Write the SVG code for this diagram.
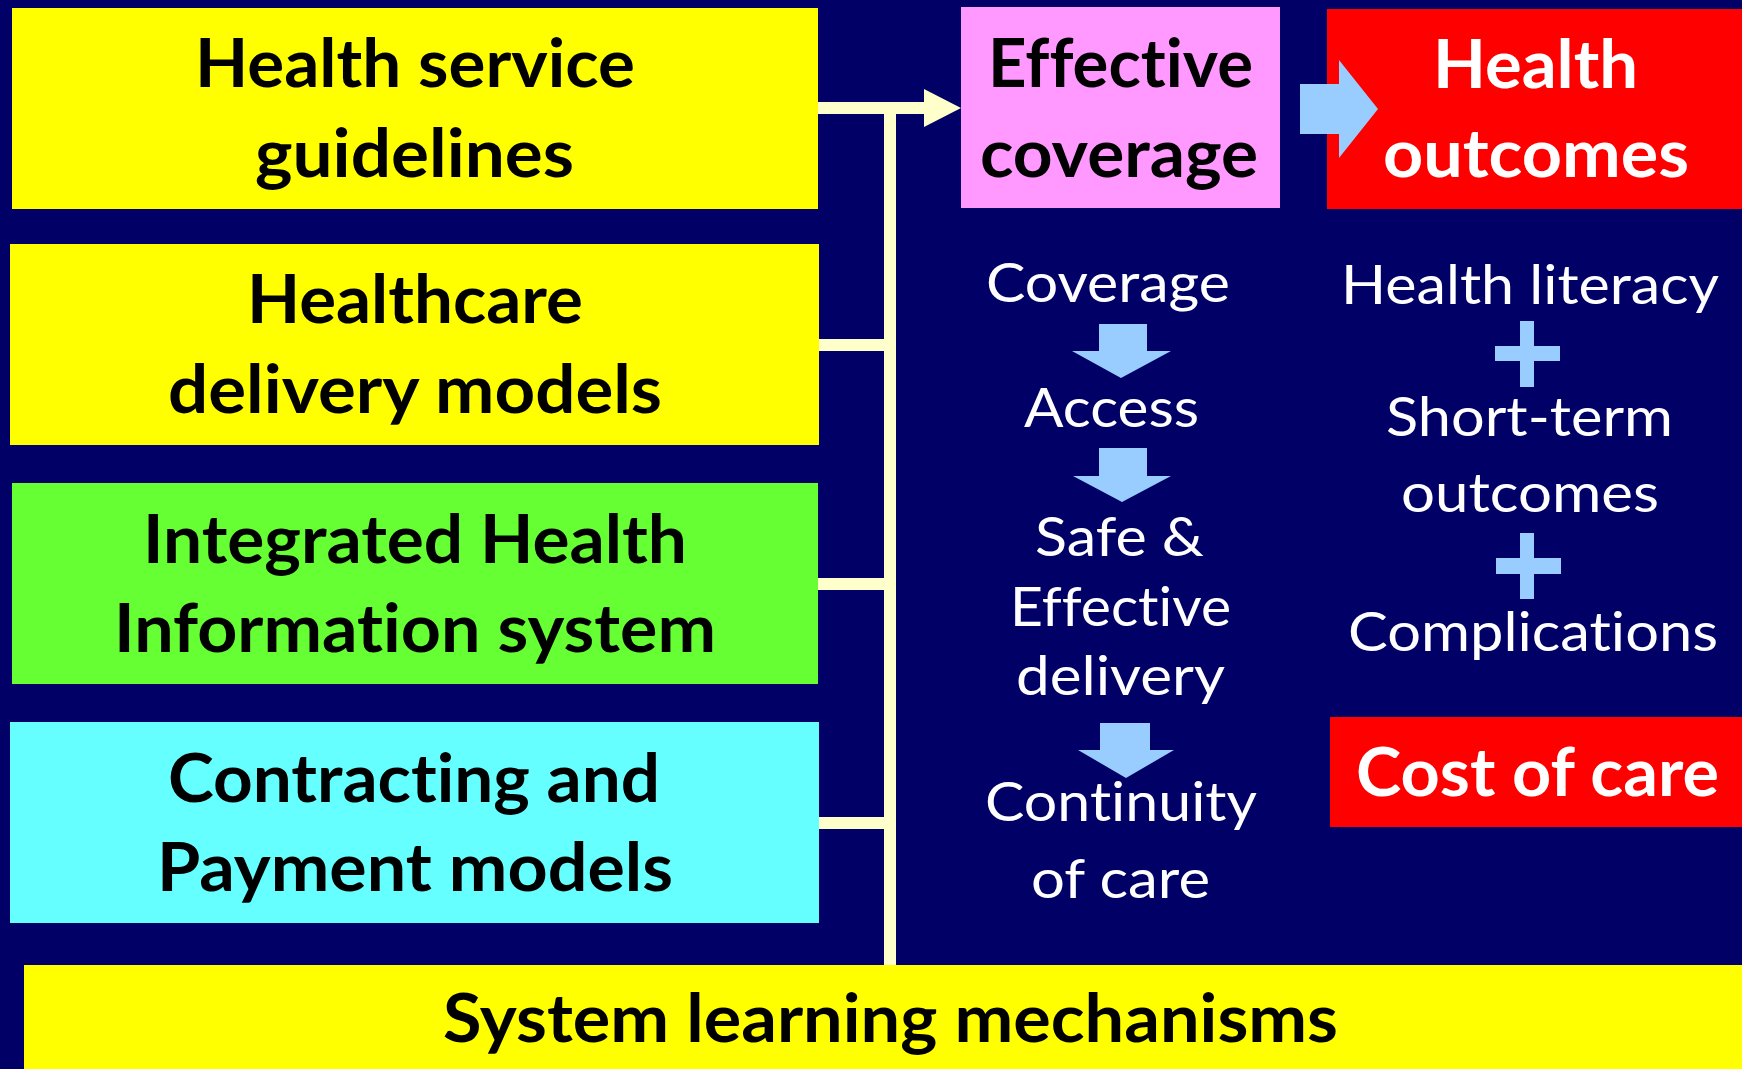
<svg xmlns="http://www.w3.org/2000/svg" width="1742" height="1069" viewBox="0 0 1742 1069">
<style>
text{font-variant-ligatures:none;font-feature-settings:"liga" 0,"dlig" 0,"clig" 0}
.b{font-family:Lato,"Open Sans",sans-serif;font-weight:bold;font-size:66px;fill:#000}
.bw{font-family:Lato,"Open Sans",sans-serif;font-weight:bold;font-size:66px;fill:#fff}
.r{font-family:Lato,"Open Sans",sans-serif;font-weight:normal;font-size:54px;fill:#fff}
.con{fill:none;stroke:#FFFFCC;stroke-width:12}
.lb{fill:#99CCFF}
</style>
<rect x="0" y="0" width="1742" height="1069" fill="#000066"/>
<g id="connectors">
<path class="con" d="M818,108 H926 M890,102 V965 M818,345 H890 M818,584 H890 M818,823 H890"/>
<polygon points="924,89 961,108 924,127" fill="#FFFFCC"/>
</g>
<g id="n-guidelines">
<rect x="12" y="8" width="806" height="201" fill="#FFFF00"/>
<text class="b" x="195" y="87" textLength="440" lengthAdjust="spacingAndGlyphs">Health service</text>
<text class="b" x="255" y="177" textLength="319" lengthAdjust="spacingAndGlyphs">guidelines</text>
</g>
<g id="n-delivery">
<rect x="10" y="244" width="809" height="201" fill="#FFFF00"/>
<text class="b" x="247" y="323" textLength="336" lengthAdjust="spacingAndGlyphs">Healthcare</text>
<text class="b" x="168" y="413" textLength="494" lengthAdjust="spacingAndGlyphs">delivery models</text>
</g>
<g id="n-his">
<rect x="12" y="483" width="806" height="201" fill="#66FF33"/>
<text class="b" x="143" y="563" textLength="544" lengthAdjust="spacingAndGlyphs">Integrated Health</text>
<text class="b" x="114" y="652" textLength="602" lengthAdjust="spacingAndGlyphs">Information system</text>
</g>
<g id="n-payment">
<rect x="10" y="722" width="809" height="201" fill="#66FFFF"/>
<text class="b" x="168" y="802" textLength="492" lengthAdjust="spacingAndGlyphs">Contracting and</text>
<text class="b" x="157" y="891" textLength="516" lengthAdjust="spacingAndGlyphs">Payment models</text>
</g>
<g id="n-learning">
<rect x="24" y="965" width="1718" height="104" fill="#FFFF00"/>
<text class="b" x="443" y="1042" textLength="895" lengthAdjust="spacingAndGlyphs">System learning mechanisms</text>
</g>
<g id="n-effective">
<rect x="961" y="7" width="319" height="201" fill="#FF99FF"/>
<text class="b" x="988" y="87" textLength="265" lengthAdjust="spacingAndGlyphs">Effective</text>
<text class="b" x="980" y="177" textLength="278" lengthAdjust="spacingAndGlyphs">coverage</text>
</g>
<g id="n-outcomes">
<rect x="1327" y="9" width="415" height="200" fill="#FF0000"/>
<text class="bw" x="1433" y="88" textLength="205" lengthAdjust="spacingAndGlyphs">Health</text>
<text class="bw" x="1383" y="177" textLength="306" lengthAdjust="spacingAndGlyphs">outcomes</text>
</g>
<g id="a-right">
<polygon class="lb" points="1300,84 1339,84 1339,60 1378,109 1339,158 1339,134 1300,134"/>
</g>
<g id="n-cascade">
<text class="r" x="986" y="302" textLength="244" lengthAdjust="spacingAndGlyphs">Coverage</text>
<polygon class="lb" points="1099,324 1147,324 1147,351 1171,351 1121,378 1072,351 1099,351"/>
<text class="r" x="1024" y="427" textLength="175" lengthAdjust="spacingAndGlyphs">Access</text>
<polygon class="lb" points="1099,448 1147,448 1147,476 1171,476 1122,502 1073,476 1099,476"/>
<text class="r" x="1035" y="556" textLength="169" lengthAdjust="spacingAndGlyphs">Safe &amp;</text>
<text class="r" x="1010" y="626" textLength="221" lengthAdjust="spacingAndGlyphs">Effective</text>
<text class="r" x="1016" y="695" textLength="209" lengthAdjust="spacingAndGlyphs">delivery</text>
<polygon class="lb" points="1100,723 1150,723 1150,750 1174,750 1126,778 1078,750 1100,750"/>
<text class="r" x="985" y="821" textLength="272" lengthAdjust="spacingAndGlyphs">Continuity</text>
<text class="r" x="1031" y="898" textLength="179" lengthAdjust="spacingAndGlyphs">of care</text>
</g>
<g id="n-results">
<text class="r" x="1341" y="304" textLength="378" lengthAdjust="spacingAndGlyphs">Health literacy</text>
<path class="lb" d="M1520,321 H1534 V346 H1560 V361 H1534 V387 H1520 V361 H1495 V346 H1520 Z"/>
<text class="r" x="1386" y="436" textLength="287" lengthAdjust="spacingAndGlyphs">Short-term</text>
<text class="r" x="1401" y="512" textLength="258" lengthAdjust="spacingAndGlyphs">outcomes</text>
<path class="lb" d="M1520,533 H1534 V558 H1561 V574 H1534 V599 H1520 V574 H1496 V558 H1520 Z"/>
<text class="r" x="1348" y="651" textLength="370" lengthAdjust="spacingAndGlyphs">Complications</text>
</g>
<g id="n-cost">
<rect x="1330" y="717" width="412" height="110" fill="#FF0000"/>
<text class="bw" x="1356" y="796" textLength="363" lengthAdjust="spacingAndGlyphs">Cost of care</text>
</g>
</svg>
